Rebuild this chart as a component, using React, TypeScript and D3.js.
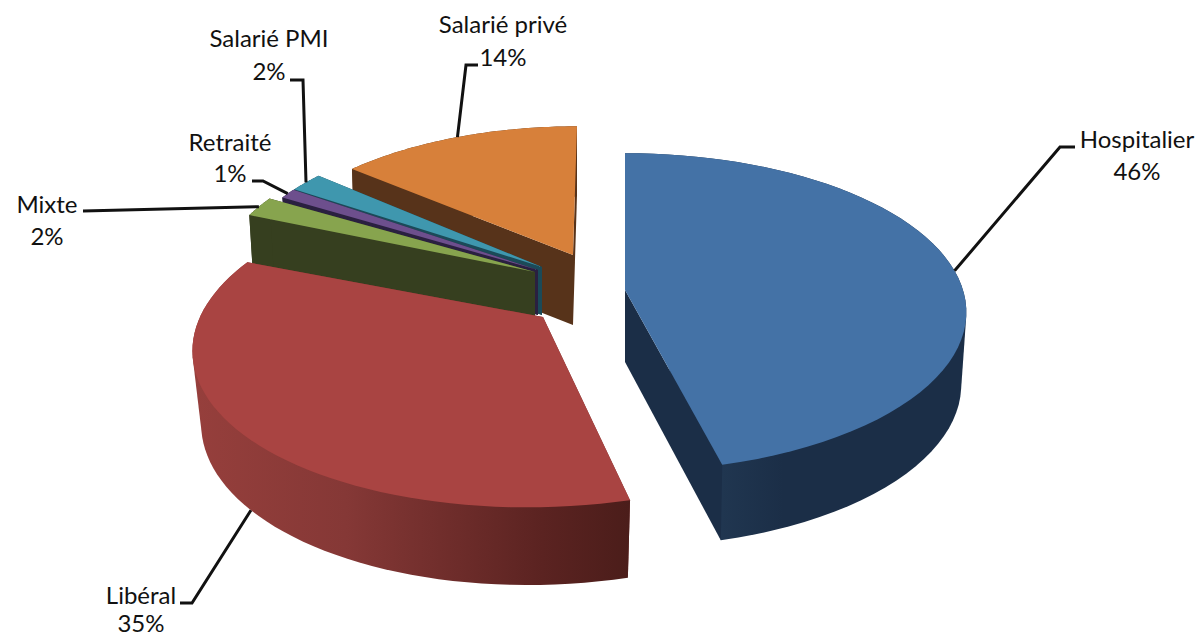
import React from "react";
import * as d3 from "d3";

// Share of respondents by practice type, clockwise from twelve o'clock.
const categories = ["Hospitalier", "Libéral", "Mixte", "Retraité", "Salarié PMI", "Salarié privé"];
const shares = [46, 35, 2, 1, 2, 14];

const topColors = ["#4472a6", "#a94442", "#87a44e", "#6d4f8d", "#3f97ae", "#d7803a"];
const sideColors = ["#1b2e47", "#7a3230", "#363f1f", "#2a2040", "#1b4a58", "#57331a"];

// Projection of each exploded wedge: apex, radii, perspective and extrusion.
const wedgeLayout = [
  { ax: 625, ay: 290, A: 338, B: 156, k: 0.14, sh: 0, depth: 72, bs: 1.02, xs: 0.985 },
  { ax: 543, ay: 317, A: 343, B: 158, k: 0.17, sh: 13, depth: 72, bs: 1.03, xs: 0.975 },
  { ax: 535, ay: 272, A: 322, B: 162, k: 0.13, sh: 0, depth: 70, bs: 1, xs: 0.985 },
  { ax: 538, ay: 270, A: 310, B: 160, k: 0.13, sh: 0, depth: 45, bs: 1, xs: 0.985 },
  { ax: 542, ay: 267, A: 314, B: 155, k: 0.13, sh: 0, depth: 48, bs: 1, xs: 0.985 },
  { ax: 573, ay: 255, A: 318, B: 148, k: 0.15, sh: 4.6, depth: 70, bs: 1, xs: 0.99 },
];

// Label centre, baselines and leader elbow path for each wedge.
const labelLayout = [
  { cx: 1137, y1: 148, y2: 180, elbow: [[1060, 147], [1075, 147]], rim: "top" },
  { cx: 141, y1: 604, y2: 632, elbow: [[192, 603], [180, 603]], rim: "bottom" },
  { cx: 47, y1: 213, y2: 245, elbow: [[83, 211]], rim: "top" },
  { cx: 230, y1: 151, y2: 182, elbow: [[263, 181], [252, 181]], rim: "top" },
  { cx: 269, y1: 47, y2: 80, elbow: [[303, 80], [290, 80]], rim: "top" },
  { cx: 503, y1: 33, y2: 66, elbow: [[466, 65], [478, 65]], rim: "top" },
];

type Wedge = (typeof wedgeLayout)[number];

const projectTop = (w: Wedge, t: number): [number, number] => {
  const u = Math.sin(t), v = Math.cos(t), s = 1 / (1 + w.k * v);
  return [w.ax + (w.A * u + w.sh * v) * s, w.ay - w.B * v * s];
};
const projectBottom = (w: Wedge, t: number): [number, number] => {
  const u = Math.sin(t), v = Math.cos(t), s = 1 / (1 + w.k * v);
  return [w.ax + (w.A * u + w.sh * v) * s * w.xs, w.ay + w.depth - w.B * v * s * w.bs];
};

const pieAngles = d3.pie<number>().sort(null).value((d) => d)(shares);
const path = d3.line();
const closed = (pts: [number, number][]) => path(pts) + "Z";

const arcPoints = (a0: number, a1: number, fn: (t: number) => [number, number]) =>
  d3.range(0, 61).map((i) => fn(a0 + ((a1 - a0) * i) / 60));

const FONT = "Lato, Carlito, Calibri, sans-serif";

export default function App() {
  // Back wedges are painted first, the two big front wedges last.
  const order = [5, 4, 3, 2, 1, 0];
  return (
    <svg width={1196} height={638} style={{ position: "absolute", left: 0, top: 0, background: "#fff" }}>
      <defs>
        <linearGradient id="rim1" gradientUnits="userSpaceOnUse" x1={193} x2={630} y1={0} y2={0}>
          <stop offset="0" stopColor="#963f3c" />
          <stop offset="0.35" stopColor="#853836" />
          <stop offset="0.8" stopColor="#5b2321" />
          <stop offset="1" stopColor="#4b1d1a" />
        </linearGradient>
        <linearGradient id="rim0" gradientUnits="userSpaceOnUse" x1={722} x2={966} y1={0} y2={0}>
          <stop offset="0" stopColor="#203650" />
          <stop offset="0.25" stopColor="#1b2e47" />
          <stop offset="1" stopColor="#1b2e47" />
        </linearGradient>
      </defs>
      {order.map((i) => {
        const w = wedgeLayout[i];
        const { startAngle: a0, endAngle: a1 } = pieAngles[i];
        const top = arcPoints(a0, a1, (t) => projectTop(w, t));
        const bot = arcPoints(a0, a1, (t) => projectBottom(w, t));
        const apex: [number, number] = [w.ax, w.ay];
        const apexB: [number, number] = [w.ax, w.ay + w.depth];
        const rimFill = i === 1 ? "url(#rim1)" : i === 0 ? "url(#rim0)" : sideColors[i];
        // The convex hull of both rims gives the outer wall with clean tangents.
        const wall = d3.polygonHull([...top, ...bot]) as [number, number][];
        const wallPath = <path d={closed(wall)} fill={rimFill} />;
        return (
          <g key={categories[i]}>
            {/* Libéral's wall hides its cut faces; on the other wedges the cut face is in front. */}
            {i !== 1 && wallPath}
            <path d={closed([apex, top[0], bot[0], apexB])} fill={sideColors[i]} />
            <path d={closed([apex, top[60], bot[60], apexB])} fill={sideColors[i]} />
            {i === 1 && wallPath}
            <path d={closed([apex, ...top])} fill={topColors[i]} />
          </g>
        );
      })}
      {categories.map((name, i) => {
        const w = wedgeLayout[i];
        const l = labelLayout[i];
        const mid = (pieAngles[i].startAngle + pieAngles[i].endAngle) / 2;
        const anchor = l.rim === "bottom" ? projectBottom(w, mid) : projectTop(w, mid);
        return (
          <g key={name} fontFamily={FONT} fontSize={24} fill="#111" textAnchor="middle">
            <path d={path([anchor, ...(l.elbow as [number, number][])]) as string} fill="none" stroke="#111" strokeWidth={3} />
            <text x={l.cx} y={l.y1}>{name}</text>
            <text x={l.cx} y={l.y2}>{shares[i]}%</text>
          </g>
        );
      })}
    </svg>
  );
}
